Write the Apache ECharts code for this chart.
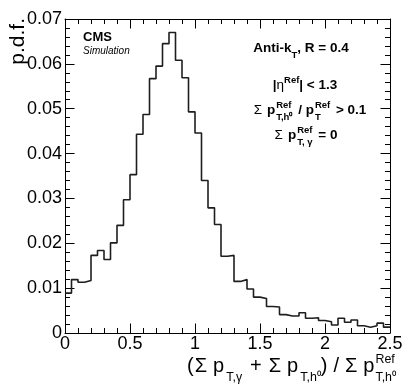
<!DOCTYPE html>
<html>
<head>
<meta charset="utf-8">
<script src="https://cdn.jsdelivr.net/npm/echarts@6/dist/echarts.min.js"></script>
<style>
    html, body { margin: 0; padding: 0; background: #fff; }
    #chart { width: 407px; height: 391px; }
</style>
</head>
<body>
<div id="chart"></div>
<script>
    // 50 bins of width 0.05 between 0 and 2.5
    let binStart = 0
    let binWidth = 0.05
    let pdfValues = [
        0.0089, 0.0119, 0.0113, 0.0117, 0.0173, 0.0184, 0.0164, 0.0201, 0.0240, 0.0297,
        0.0353, 0.0443, 0.0487, 0.0567, 0.0595, 0.0645, 0.0670, 0.0608, 0.0569, 0.0493,
        0.0446, 0.0340, 0.0279, 0.0242, 0.0171, 0.0173, 0.0115, 0.0119, 0.0098, 0.0080,
        0.0077, 0.0059, 0.0058, 0.0041, 0.0038, 0.0038, 0.0045, 0.0033, 0.0034, 0.0028,
        0.0025, 0.0018, 0.0033, 0.0024, 0.0029, 0.0016, 0.0013, 0.0016, 0.0022, 0.0013
    ]

    let FONT = '"Liberation Sans", Arial, sans-serif'

    // step line: one point per bin low edge, plus the last upper edge
    let stepData = pdfValues.map((v, i) => [binStart + i * binWidth, v])
    stepData.push([binStart + pdfValues.length * binWidth, pdfValues[pdfValues.length - 1]])

    let meas = document.createElement('canvas').getContext('2d')
    function fontStr(size, bold, italic) {
        return (italic ? 'italic ' : '') + (bold ? 'bold ' : '') + size + 'px ' + FONT
    }
    function textW(t, size, bold) {
        meas.font = fontStr(size, bold)
        return meas.measureText(t).width
    }

    // tiny latex-ish line: normal pieces, sub/sup pieces, stacked sup+sub and gaps (px)
    function latex(parts, x, base, size, bold, align, ratio) {
        let sc = Math.round(size * (ratio || 0.7) * 10) / 10
        let items = []
        let cx = 0
        parts.forEach(p => {
            let b = p.bold === undefined ? bold : p.bold
            if (p.g !== undefined) {
                cx += p.g
            } else if (p.stack) {
                items.push({t: p.stack[0], x: cx, dy: -size * 0.48, s: sc, b: b})
                items.push({t: p.stack[1], x: cx, dy: size * 0.42, s: sc, b: b})
                cx += Math.max(textW(p.stack[0], sc, b), textW(p.stack[1], sc, b))
            } else if (p.k === 'sub' || p.k === 'sup') {
                items.push({t: p.t, x: cx, dy: p.k === 'sub' ? size * 0.42 : -size * 0.48, s: sc, b: b})
                cx += textW(p.t, sc, b)
            } else {
                items.push({t: p.t, x: cx, dy: 0, s: size, b: b})
                cx += textW(p.t, size, b)
            }
        })
        let x0 = align === 'center' ? x - cx / 2 : (align === 'right' ? x - cx : x)
        return items.map(it => ({
            type: 'text',
            x: x0 + it.x,
            y: base + it.dy - it.s * 0.32,
            silent: true,
            style: {text: it.t, font: fontStr(it.s, it.b), fill: '#000', align: 'left', verticalAlign: 'middle'}
        }))
    }

    let graphics = [
        {type: 'text', x: 18, y: 18, rotation: Math.PI / 2, silent: true,
            style: {text: 'p.d.f.', font: fontStr(21), fill: '#000', align: 'right', verticalAlign: 'middle'}},
        {type: 'text', x: 83, y: 37.5, silent: true,
            style: {text: 'CMS', font: fontStr(13, true), fill: '#000', align: 'left', verticalAlign: 'middle'}},
        {type: 'text', x: 83, y: 51.5, silent: true,
            style: {text: 'Simulation', font: fontStr(10, false, true), fill: '#000', align: 'left', verticalAlign: 'middle'}}
    ]
    graphics = graphics.concat(
        latex([{t: 'Anti-k'}, {t: 'T', k: 'sub'}, {t: ', R = 0.4'}], 301, 53, 13.5, true, 'center'),
        latex([{t: '|'}, {t: 'η', bold: false}, {t: 'Ref', k: 'sup'}, {t: '| < 1.3'}], 305, 90, 13.5, true, 'center'),
        latex([{t: 'Σ', bold: false}, {g: 5}, {t: 'p'}, {g: 1}, {stack: ['Ref', 'T,h⁰']}, {g: 2}, {t: ' / p'}, {g: 1},
            {stack: ['Ref', 'T']}, {g: 2}, {t: ' > 0.1'}], 310, 115, 13.5, true, 'center'),
        latex([{t: 'Σ', bold: false}, {g: 5}, {t: 'p'}, {g: 1}, {stack: ['Ref', 'T, γ']}, {g: 2}, {t: ' = 0'}],
            306, 140, 13.5, true, 'center'),
        latex([{t: '('}, {g: 1}, {t: 'Σ'}, {g: 6}, {t: 'p'}, {g: 2}, {t: 'T,γ', k: 'sub'}, {g: 8}, {t: '+'}, {g: 7},
            {t: 'Σ'}, {g: 6}, {t: 'p'}, {g: 2}, {t: 'T,h⁰', k: 'sub'}, {t: ')'}, {g: 6}, {t: '/'}, {g: 6},
            {t: 'Σ'}, {g: 6}, {t: 'p'}, {g: 1}, {stack: ['Ref', 'T,h⁰']}], 396, 373, 20, false, 'right', 0.62)
    )

    let tickStyle = {color: '#000', width: 1}
    let option = {
        animation: false,
        backgroundColor: '#fff',
        grid: {left: 65, right: 17, top: 19, bottom: 58, outerBoundsMode: 'none', containLabel: false},
        xAxis: [
            {
                type: 'value', min: 0, max: 2.5, interval: 0.5, position: 'bottom',
                axisLine: {show: true, onZero: false, lineStyle: tickStyle},
                axisTick: {show: true, inside: true, length: 9.5, lineStyle: tickStyle},
                minorTick: {show: true, splitNumber: 5, length: 5, lineStyle: tickStyle},
                splitLine: {show: false},
                axisLabel: {show: true, showMaxLabel: true, showMinLabel: true, margin: 2,
                    color: '#000', fontSize: 18, fontFamily: FONT}
            },
            {
                type: 'value', min: 0, max: 2.5, interval: 0.5, position: 'top',
                axisLine: {show: true, onZero: false, lineStyle: tickStyle},
                axisTick: {show: true, inside: true, length: 9.5, lineStyle: tickStyle},
                minorTick: {show: true, splitNumber: 5, length: 5, lineStyle: tickStyle},
                splitLine: {show: false},
                axisLabel: {show: false}
            }
        ],
        yAxis: [
            {
                type: 'value', min: 0, max: 0.07, interval: 0.01, position: 'left',
                axisLine: {show: true, onZero: false, lineStyle: tickStyle},
                axisTick: {show: true, inside: true, length: 9.5, lineStyle: tickStyle},
                minorTick: {show: true, splitNumber: 5, length: 5, lineStyle: tickStyle},
                splitLine: {show: false},
                axisLabel: {show: true, showMaxLabel: true, margin: 3,
                    color: '#000', fontSize: 18, fontFamily: FONT}
            },
            {
                type: 'value', min: 0, max: 0.07, interval: 0.01, position: 'right',
                axisLine: {show: true, onZero: false, lineStyle: tickStyle},
                axisTick: {show: true, inside: true, length: 9.5, lineStyle: tickStyle},
                minorTick: {show: true, splitNumber: 5, length: 5, lineStyle: tickStyle},
                splitLine: {show: false},
                axisLabel: {show: false}
            }
        ],
        series: [{
            type: 'line',
            step: 'end',
            data: stepData,
            showSymbol: false,
            symbol: 'none',
            lineStyle: {color: '#1e1e1e', width: 1.6},
            clip: true
        }],
        graphic: graphics
    }

    let myChart = echarts.init(document.getElementById('chart'), null, {renderer: 'canvas'})
    myChart.setOption(option)
</script>
</body>
</html>
